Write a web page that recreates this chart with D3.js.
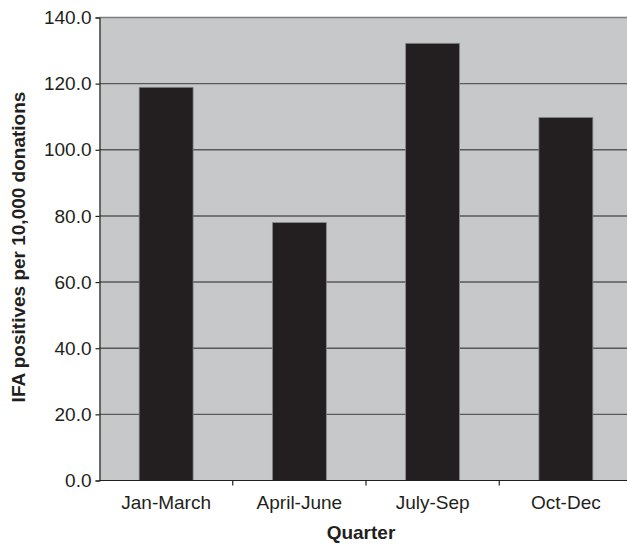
<!DOCTYPE html>
<html>
<head>
<meta charset="utf-8">
<script src="https://cdn.jsdelivr.net/npm/d3@7"></script>
<style>
  html, body { margin: 0; padding: 0; background: #fff; }
  svg { display: block; font-family: "Liberation Sans", Arial, sans-serif; }
</style>
</head>
<body>
<svg id="chart" width="627" height="546"></svg>
<script>
// IFA positives per 10,000 donations, by quarter
const quarters = ["Jan-March", "April-June", "July-Sep", "Oct-Dec"];
const ifaRates = [118.9, 78.0, 132.2, 109.8];
const yTicks = [0, 20, 40, 60, 80, 100, 120, 140];

const svg = d3.select("#chart");
const plotLeft = 99.5, plotRight = 632.5, plotTop = 17.5, plotBottom = 480.5;

const y = d3.scaleLinear().domain([0, 140]).range([plotBottom, plotTop]);
const xBand = d3.scaleBand().domain(quarters).range([plotLeft, plotRight])
  .paddingInner(0.595).paddingOuter(0.2975);
const xSlot = d3.scaleBand().domain(quarters).range([plotLeft, plotRight]).padding(0);

// plot background
svg.append("rect")
  .attr("x", plotLeft).attr("y", plotTop)
  .attr("width", plotRight - plotLeft).attr("height", plotBottom - plotTop)
  .attr("fill", "#c7c8ca");

// horizontal gridlines
svg.append("g").selectAll("line")
  .data(yTicks.filter(d => d > 0))
  .join("line")
  .attr("x1", plotLeft).attr("x2", plotRight)
  .attr("y1", d => y(d)).attr("y2", d => y(d))
  .attr("stroke", d => d === 140 ? "#7b7c7e" : "#58595b")
  .attr("stroke-width", 1.4);

// bars
svg.append("g").selectAll("rect")
  .data(quarters.map((q, i) => ({ q, v: ifaRates[i] })))
  .join("rect")
  .attr("x", d => xBand(d.q))
  .attr("y", d => y(d.v))
  .attr("width", xBand.bandwidth())
  .attr("height", d => y(0) - y(d.v))
  .attr("fill", "#231f20")
  .attr("stroke", "#8a8b8d")
  .attr("stroke-width", 0.8);

// y axis
const yAxis = d3.axisLeft(y).tickValues(yTicks)
  .tickFormat(d3.format(".1f")).tickSize(4).tickPadding(4);
const gy = svg.append("g").attr("transform", `translate(${plotLeft},0)`).call(yAxis);
gy.select(".domain").attr("stroke", "#231f20").attr("stroke-width", 1.2);
gy.selectAll(".tick line").attr("stroke", "#231f20").attr("stroke-width", 1.2);
gy.selectAll(".tick text")
  .attr("font-size", 19).attr("fill", "#231f20")
  .attr("font-family", "Liberation Sans, Arial, sans-serif");

// x axis baseline
svg.append("line")
  .attr("x1", plotLeft).attr("x2", plotRight)
  .attr("y1", plotBottom).attr("y2", plotBottom)
  .attr("stroke", "#231f20").attr("stroke-width", 1.2);

// category separators on the x axis
svg.append("g").selectAll("line")
  .data(quarters.slice(1))
  .join("line")
  .attr("x1", d => xSlot(d)).attr("x2", d => xSlot(d))
  .attr("y1", plotBottom).attr("y2", plotBottom + 5)
  .attr("stroke", "#231f20").attr("stroke-width", 1.2);

// category labels
svg.append("g").selectAll("text")
  .data(quarters)
  .join("text")
  .attr("x", d => xSlot(d) + xSlot.bandwidth() / 2)
  .attr("y", 509)
  .attr("text-anchor", "middle")
  .attr("font-size", 19)
  .attr("fill", "#231f20")
  .text(d => d);

// axis titles
svg.append("text")
  .attr("x", 361).attr("y", 539)
  .attr("text-anchor", "middle")
  .attr("font-size", 19).attr("font-weight", "bold")
  .attr("fill", "#231f20")
  .text("Quarter");

svg.append("text")
  .attr("transform", "translate(25,247) rotate(-90)")
  .attr("text-anchor", "middle")
  .attr("font-size", 19).attr("font-weight", "bold")
  .attr("fill", "#231f20")
  .text("IFA positives per 10,000 donations");
</script>
</body>
</html>
